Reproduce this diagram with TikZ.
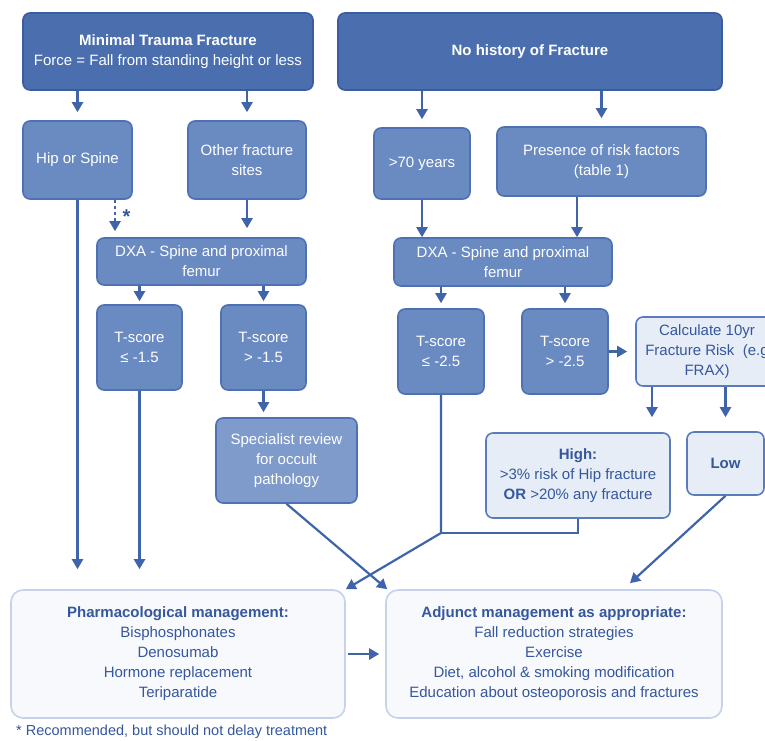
\documentclass[tikz,border=0pt]{standalone}
\usepackage{fontspec}
\setmainfont{Liberation Sans}
\usetikzlibrary{arrows.meta,calc}
\definecolor{topfill}{HTML}{4A6EAE}
\definecolor{topline}{HTML}{3A5CA2}
\definecolor{midfill}{HTML}{6A8AC2}
\definecolor{midline}{HTML}{4E71B4}
\definecolor{specfill}{HTML}{7F9BCC}
\definecolor{lightfill}{HTML}{E7EDF7}
\definecolor{lightline}{HTML}{5A7CBC}
\definecolor{darktext}{HTML}{34579D}
\definecolor{palefill}{HTML}{F8F9FD}
\definecolor{paleline}{HTML}{C5D2EA}
\definecolor{linec}{HTML}{3F64AA}
\begin{document}
\begin{tikzpicture}[x=1pt,y=-1pt,
  base/.style={rounded corners=7pt, line width=1.6pt, align=center, inner sep=2pt,
    font=\fontsize{15}{20}\selectfont},
  topbox/.style={base, fill=topfill, draw=topline, text=white},
  midbox/.style={base, fill=midfill, draw=midline, text=white},
  specbox/.style={base, fill=specfill, draw=midline, text=white},
  lightbox/.style={base, fill=lightfill, draw=lightline, text=darktext},
  palebox/.style={base, fill=palefill, draw=paleline, text=darktext, rounded corners=12pt},
  arr/.style={draw=linec, line width=2.2pt, -{Triangle[width=11pt,length=10pt]}},
  plain/.style={draw=linec, line width=2.2pt}]
\useasboundingbox (0,0) rectangle (765,740);
\clip (0,0) rectangle (765,740);
\fill[white] (0,0) rectangle (765,740);

% header boxes
\node[topbox, minimum width=290, minimum height=77] (mtf) at (168,51.5)
  {\textbf{Minimal Trauma Fracture}\\Force = Fall from standing height or less};
\node[topbox, minimum width=384, minimum height=77] (nhf) at (530,51.5)
  {\textbf{No history of Fracture}};

% second row
\node[midbox, minimum width=109, minimum height=78] (hip) at (77.5,160) {Hip or Spine};
\node[midbox, minimum width=118, minimum height=78] (other) at (247,160) {Other fracture\\sites};
\node[midbox, minimum width=96, minimum height=71] (age) at (422,163.5) {>70 years};
\node[midbox, minimum width=209, minimum height=69] (risk) at (601.5,161.5) {Presence of risk factors\\(table 1)};

% DXA
\node[midbox, minimum width=209, minimum height=47] (dxaL) at (201.5,261.5) {DXA - Spine and proximal\\femur};
\node[midbox, minimum width=218, minimum height=48] (dxaR) at (503,262) {DXA - Spine and proximal\\femur};

% T-scores
\node[midbox, minimum width=85, minimum height=85] (t1) at (139.5,347.5) {T-score\\≤ -1.5};
\node[midbox, minimum width=85, minimum height=85] (t2) at (263.5,347.5) {T-score\\> -1.5};
\node[midbox, minimum width=86, minimum height=85] (t3) at (441,351.5) {T-score\\≤ -2.5};
\node[midbox, minimum width=86, minimum height=85] (t4) at (565,351.5) {T-score\\> -2.5};

\node[specbox, minimum width=141, minimum height=85] (spec) at (286.5,460.5)
  {Specialist review\\for occult\\pathology};

% fracture risk calculation (box runs past the right edge)
\node[lightbox, minimum width=142, minimum height=69] (calc) at (707,351.5)
  {Calculate 10yr\\Fracture Risk~~(e.g\\FRAX)};
\node[lightbox, minimum width=184, minimum height=85] (high) at (578,475.5)
  {\textbf{High:}\\>3\% risk of Hip fracture\\\textbf{OR} >20\% any fracture};
\node[lightbox, minimum width=77, minimum height=63] (low) at (725.5,463.5) {\textbf{Low}};

% management
\node[palebox, minimum width=334, minimum height=128] (pharm) at (178,654)
  {\textbf{Pharmacological management:}\\Bisphosphonates\\Denosumab\\Hormone replacement\\Teriparatide};
\node[palebox, minimum width=336, minimum height=128] (adj) at (554,654)
  {\textbf{Adjunct management as appropriate:}\\Fall reduction strategies\\Exercise\\Diet, alcohol \& smoking modification\\Education about osteoporosis and fractures};

\node[anchor=west, text=darktext, font=\fontsize{14.5}{16}\selectfont, inner sep=0pt] (note) at (16,732)
  {* Recommended, but should not delay treatment};

% connectors: header to second row
\draw[arr, shorten >=8pt] (mtf.south -| hip.north) -- (hip.north);
\draw[arr, shorten >=8pt] (mtf.south -| other.north) -- (other.north);
\draw[arr, shorten >=8pt] (nhf.south -| age.north) -- (age.north);
\draw[arr, shorten >=8pt] (nhf.south -| risk.north) -- (risk.north);

% to DXA
\draw[arr, dash pattern=on 3pt off 3pt, shorten >=6pt] ([xshift=37.5pt]hip.south) -- ([xshift=37.5pt]hip.south |- dxaL.north);
\node[text=darktext, font=\bfseries\fontsize{20}{20}\selectfont, inner sep=0pt] (star)
  at ([xshift=49pt,yshift=-17pt]hip.south) {*};
\draw[arr, shorten >=9pt] (other.south) -- (other.south |- dxaL.north);
\draw[arr] (age.south) -- (age.south |- dxaR.north);
\draw[arr] ([xshift=-24.5pt]risk.south) -- ([xshift=-24.5pt]risk.south |- dxaR.north);

% DXA to T-scores
\draw[arr, shorten >=3pt] (dxaL.south -| t1.north) -- (t1.north);
\draw[arr, shorten >=3pt] (dxaL.south -| t2.north) -- (t2.north);
\draw[arr, shorten >=5pt] (dxaR.south -| t3.north) -- (t3.north);
\draw[arr, shorten >=5pt] (dxaR.south -| t4.north) -- (t4.north);

% left branch outcomes
\draw[arr, shorten >=20pt] (hip.south) -- (hip.south |- pharm.north);
\draw[arr, shorten >=20pt] (t1.south) -- (t1.south |- pharm.north);
\draw[arr, shorten >=5pt] (t2.south) -- (t2.south |- spec.north);
\draw[arr] (spec.south) -- ([xshift=2pt]adj.north west);

% right branch outcomes
\draw[arr, shorten >=8pt] (t4.east) -- (t4.east -| calc.west);
\draw[arr, shorten >=15pt] ([xshift=-55pt]calc.south) -- ([xshift=-55pt]calc.south |- high.north);
\draw[arr, shorten >=14pt] (calc.south -| low.north) -- (low.north);
\coordinate (join) at (t3.south |- 0,533);
\draw[plain] (high.south) -- (high.south |- join) -- (join);
\draw[arr] (t3.south) -- (join) -- (pharm.north east);
\coordinate (lowin) at ([xshift=76pt,yshift=6pt]adj.north);
\draw[arr] (low.south) -- (lowin);

% pharmacological to adjunct
\draw[arr, shorten <=2pt, shorten >=6pt] (pharm.east) -- (adj.west);
\end{tikzpicture}
\end{document}
